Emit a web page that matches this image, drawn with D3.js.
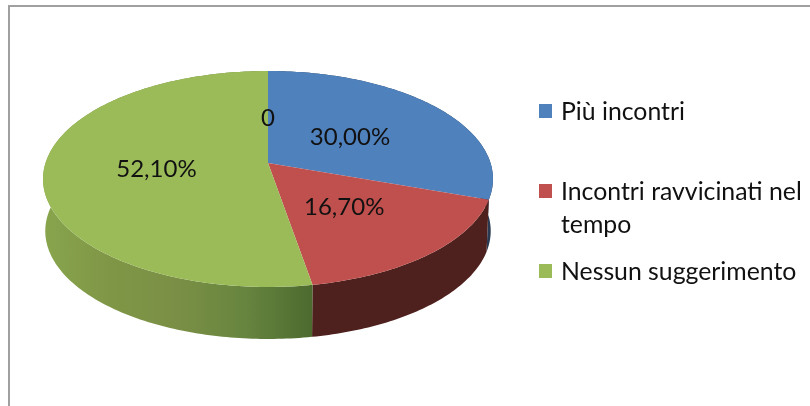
<!DOCTYPE html>
<html>
<head>
<meta charset="utf-8">
<script src="https://cdn.jsdelivr.net/npm/d3@7"></script>
<style>
body { margin: 0; background: #fff; }
svg { display: block; filter: blur(0.45px); }
text { font-family: Lato, "Open Sans", sans-serif; fill: #111; }
</style>
</head>
<body>
<svg id="chart" width="810" height="406"></svg>
<script>
var categories = ['Più incontri', 'Incontri ravvicinati nel|tempo', 'Nessun suggerimento', ''];
var values = [30, 16.7, 52.1, 0];
var labels = ['30,00%', '16,70%', '52,10%', '0'];
var topCols = ['#4f81bd', '#c0504d', '#9bbb59', '#8064a2'];
var wallCols = [
	['#2a3a52', '#2a3a52'],
	['#4f211e', '#4f211e'],
	['#88a54d', '#7f9646', '#7a8f45', '#67853f', '#4c6a2e']
];
// how far out each label sits, 0 centre 1 rim
var labelRho = [0.47, 0.5, 0.5, 0.47];

var svg = d3.select('#chart');
var cx = 268, cy = 163;
var k = 222.5, ya = 81.5, c = -0.148;
var depth = 52;

// tilted disc, u and v are on the unit circle, perspective moves the apex up
function project(a, rho, shrink, drop) {
	var u = Math.sin(a) * rho, v = -Math.cos(a) * rho;
	var w = 1 + c * v;
	return [cx + k * shrink * u / w, (ya * v + cy) / w + drop];
}

var pie = d3.pie().sort(null).value(function(d){ return d; });
var arcs = pie(values);

var defs = svg.append('defs');
var line = d3.line();

function rim(d, shrink, drop) {
	var n = Math.max(2, Math.ceil((d.endAngle - d.startAngle) * 60));
	return d3.range(n + 1).map(function(i){
		return project(d.startAngle + (d.endAngle - d.startAngle) * i / n, 1, shrink, drop);
	});
}

svg.append('rect')
	.attr('x', 9).attr('y', 6)
	.attr('width', 820).attr('height', 440)
	.attr('fill', 'none')
	.attr('stroke', '#a0a0a0')
	.attr('stroke-width', 2);

// walls first, top faces cover whatever is behind
arcs.forEach(function(d, i){
	if (d.value === 0) return;
	var id = 'wall' + i;
	var grad = defs.append('linearGradient')
		.attr('id', id)
		.attr('gradientUnits', 'userSpaceOnUse')
		.attr('x1', 43).attr('x2', 313).attr('y1', 0).attr('y2', 0);
	wallCols[i].forEach(function(col, j){
		grad.append('stop')
			.attr('offset', j / (wallCols[i].length - 1))
			.attr('stop-color', col);
	});
	var pts = rim(d, 1, 0).concat(rim(d, 0.99, depth).reverse());
	svg.append('path')
		.attr('d', line(pts) + 'Z')
		.attr('fill', 'url(#' + id + ')');
});

arcs.forEach(function(d, i){
	if (d.value === 0) return;
	var pts = [project(0, 0, 1, 0)].concat(rim(d, 1, 0));
	svg.append('path')
		.attr('d', line(pts) + 'Z')
		.attr('fill', topCols[i]);
});

arcs.forEach(function(d, i){
	var p = project((d.startAngle + d.endAngle) / 2, labelRho[i], 1, 0);
	svg.append('text')
		.attr('x', p[0]).attr('y', p[1] + 1)
		.attr('dy', '0.35em')
		.attr('text-anchor', 'middle')
		.style('font-size', '24px')
		.text(labels[i]);
});

var legendY = [111, 191, 271];
categories.forEach(function(name, i){
	if (!name) return;
	svg.append('rect')
		.attr('x', 539).attr('y', legendY[i] - 7)
		.attr('width', 13).attr('height', 14)
		.attr('fill', topCols[i]);
	name.split('|').forEach(function(part, j){
		svg.append('text')
			.attr('x', 561).attr('y', legendY[i] + j * 33)
			.attr('dy', '0.35em')
			.style('font-size', '24.8px')
			.text(part);
	});
});
</script>
</body>
</html>
